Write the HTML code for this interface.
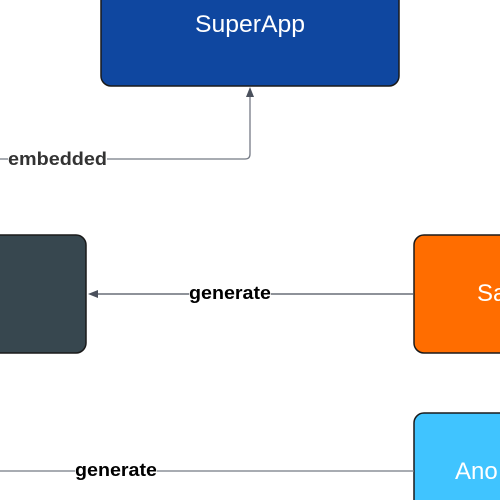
<!DOCTYPE html>
<html><head><style>
html,body{margin:0;padding:0;width:500px;height:500px;overflow:hidden;background:#fff;}
svg{display:block;overflow:hidden}
</style></head><body>
<svg width="500" height="500" xmlns="http://www.w3.org/2000/svg">
<rect x="101" y="-20" width="298" height="106" rx="10" fill="#0f47a0" stroke="#1a1a1a" stroke-width="1.5"/>
<text x="250" y="32" font-family="Liberation Sans, sans-serif" font-size="24" fill="#fff" text-anchor="middle" textLength="110" lengthAdjust="spacingAndGlyphs">SuperApp</text>
<rect x="-20" y="235" width="106" height="118" rx="10" fill="#37474f" stroke="#1a1a1a" stroke-width="1.5"/>
<rect x="414" y="235" width="100" height="118" rx="10" fill="#ff6d00" stroke="#1a1a1a" stroke-width="1.5"/>
<text x="477" y="301" font-family="Liberation Sans, sans-serif" font-size="24" fill="#fff">Sa</text>
<rect x="414" y="413" width="100" height="100" rx="10" fill="#40c4ff" stroke="#1a1a1a" stroke-width="1.5"/>
<text x="455" y="479" font-family="Liberation Sans, sans-serif" font-size="24" fill="#fff">Ano</text>
<path d="M0 159 H245 Q250 159 250 154 V96" fill="none" stroke="#757a85" stroke-width="1.3"/>
<polygon points="250,87 246,97 254,97" fill="#4a505c"/>
<path d="M414 294 H96" fill="none" stroke="#4a505c" stroke-width="1.3"/>
<polygon points="88,294 98,290 98,298" fill="#4a505c"/>
<path d="M0 471 H414" fill="none" stroke="#757a85" stroke-width="1.3"/>
<rect x="8" y="148" width="99" height="20" fill="#fff"/>
<text x="8" y="165" font-family="Liberation Sans, sans-serif" font-size="18" font-weight="bold" fill="#333" textLength="99" lengthAdjust="spacingAndGlyphs">embedded</text>
<rect x="189" y="283" width="82" height="20" fill="#fff"/>
<text x="189" y="299" font-family="Liberation Sans, sans-serif" font-size="18" font-weight="bold" fill="#000" textLength="82" lengthAdjust="spacingAndGlyphs">generate</text>
<rect x="75" y="460" width="82" height="20" fill="#fff"/>
<text x="75" y="476" font-family="Liberation Sans, sans-serif" font-size="18" font-weight="bold" fill="#000" textLength="82" lengthAdjust="spacingAndGlyphs">generate</text>
</svg>
</body></html>
